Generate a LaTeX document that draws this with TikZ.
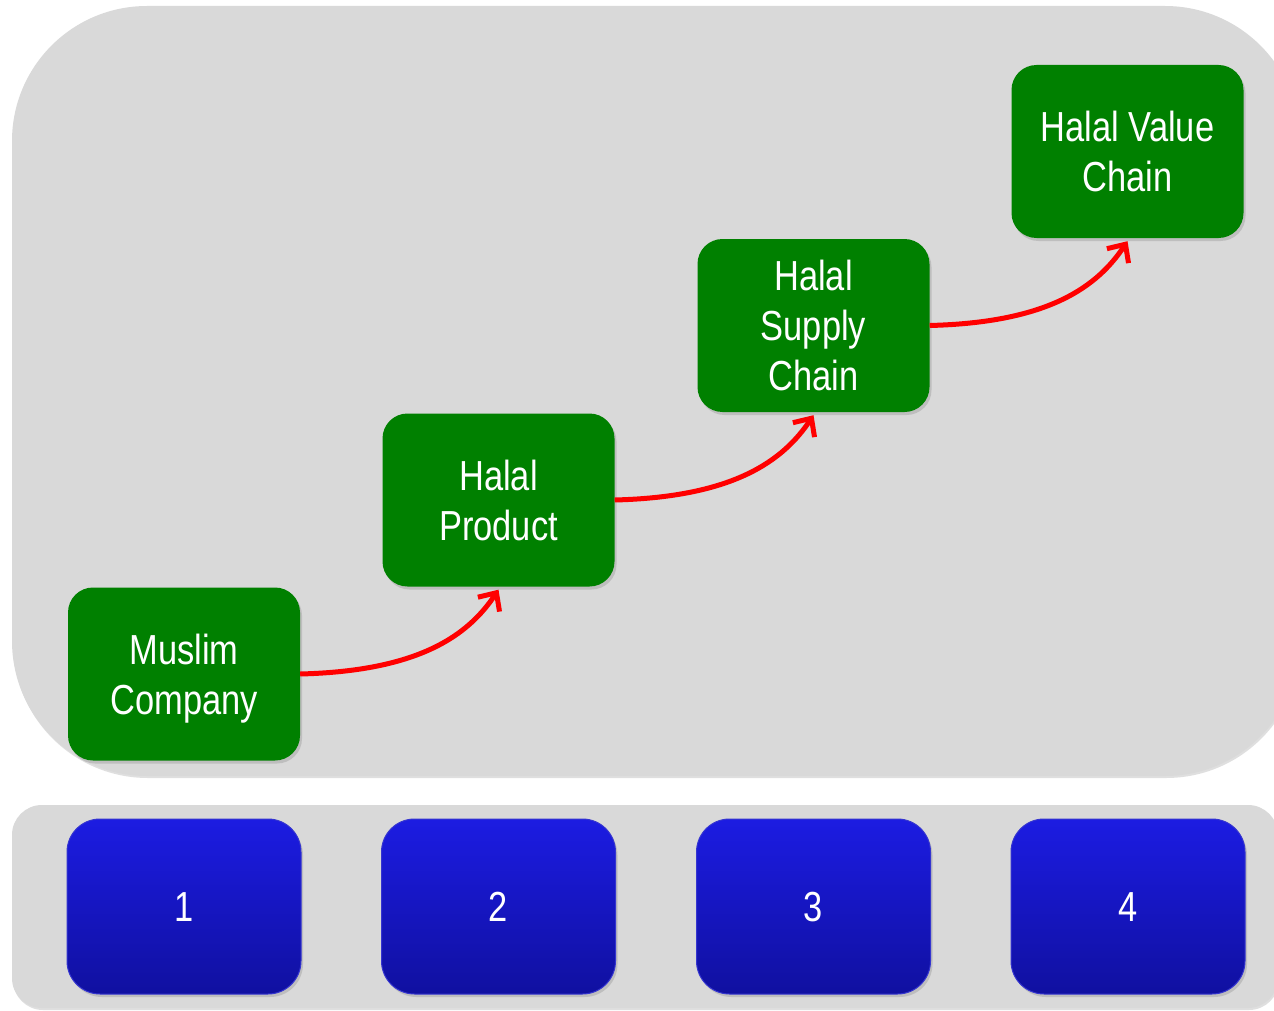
\documentclass[tikz,border=0pt]{standalone}
\usepackage{fontspec}
\setmainfont{Liberation Sans}[FakeStretch=0.82]
\usetikzlibrary{arrows.meta,shadows,calc}
\definecolor{pgrey}{HTML}{D9D9D9}
\definecolor{hgreen}{HTML}{008000}
\definecolor{btop}{HTML}{1C1CE2}
\definecolor{bbot}{HTML}{1010A0}
\definecolor{bedge}{HTML}{3535D0}
\definecolor{harrow}{HTML}{FF0000}
\newcommand\lnstrut{\rule[-10pt]{0pt}{50pt}}
\tikzset{
  panel/.style={fill=pgrey, drop shadow={opacity=0.25, shadow xshift=1pt, shadow yshift=-2pt}},
  gbox/.style={rounded corners=25pt, fill=hgreen, minimum width=232pt, minimum height=173pt,
    text=white, align=center, inner sep=0pt, font=\fontsize{42}{50}\selectfont,
    drop shadow={opacity=0.3, shadow xshift=2pt, shadow yshift=-3pt}},
  bbox/.style={rounded corners=33pt, top color=btop, bottom color=bbot, draw=bedge, line width=1pt,
    minimum width=234pt, minimum height=175pt, text=white, inner sep=0pt,
    font=\fontsize{42}{50}\selectfont,
    drop shadow={opacity=0.3, shadow xshift=2pt, shadow yshift=-3pt}},
  arr/.style={draw=harrow, line width=5pt, -{Straight Barb[length=14pt,width=26pt]}}
}
\begin{document}
\begin{tikzpicture}[x=1pt,y=1pt]
\useasboundingbox (0,0) rectangle (1274,-1011);
\fill[white] (0,0) rectangle (1274,-1011);
\clip (0,0) rectangle (1274,-1011);
% panels
\path[panel, rounded corners=135pt] (12,-6) rectangle (1300,-776);
\path[panel, rounded corners=30pt] (12,-805) rectangle (1278,-1008);
% green boxes
\node[gbox] (b1) at (184,-674) {\lnstrut Muslim\\Company\lnstrut};
\node[gbox] (b2) at (498.5,-500) {\lnstrut Halal\\Product\lnstrut};
\node[gbox] (b3) at (813.5,-325.5) {\lnstrut Halal\\Supply\\Chain\lnstrut};
\node[gbox] (b4) at (1127.5,-151.5) {\lnstrut Halal Value\\Chain\lnstrut};
% blue boxes
\node[bbox] (n1) at (184,-906.5) {\lnstrut 1};
\node[bbox] (n2) at (498.5,-906.5) {\lnstrut 2};
\node[bbox] (n3) at (813.5,-906.5) {\lnstrut 3};
\node[bbox] (n4) at (1128,-906.5) {\lnstrut 4};
% arrows
\foreach \a/\b in {b1/b2,b2/b3,b3/b4}{
  \coordinate (t) at ($(\b.south)+(0,-3)$);
  \draw[arr] (\a.east) .. controls ($(\a.east)+(120,3)$) and ($(t)+(-30,-45)$) .. (t);
}
\end{tikzpicture}
\end{document}
